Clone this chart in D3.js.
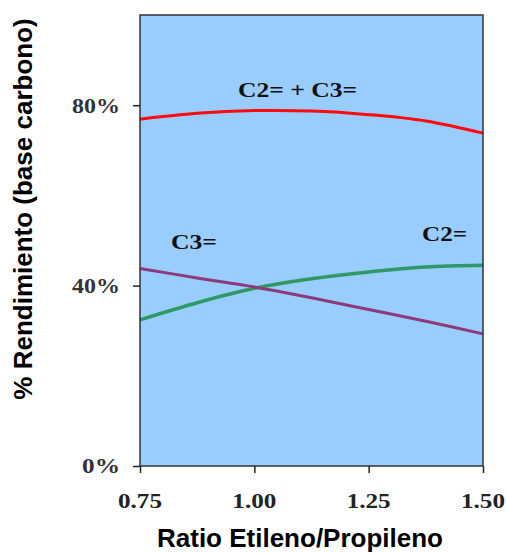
<!DOCTYPE html>
<html>
<head>
<meta charset="utf-8">
<script src="https://cdn.jsdelivr.net/npm/d3@7"></script>
<style>
  html, body { margin: 0; padding: 0; background: #fff; }
  svg { display: block; }
</style>
</head>
<body>
<svg id="chart" width="506" height="553"></svg>
<script>
// Ethylene/propylene ratio and carbon-based yields
const ratios = [0.75, 0.875, 1.0, 1.125, 1.25, 1.375, 1.5];
const yieldTotal = [0.769, 0.782, 0.788, 0.787, 0.779, 0.765, 0.738];   // C2= + C3=
const yieldC2 = [0.324, 0.362, 0.394, 0.415, 0.430, 0.441, 0.445];      // C2=
const yieldC3 = [0.438, 0.417, 0.397, 0.373, 0.347, 0.321, 0.293];      // C3=
const xTicks = [0.75, 1.0, 1.25, 1.5];
const xTickLabels = ["0.75", "1.00", "1.25", "1.50"];
const yTicks = [0, 0.4, 0.8];
const yTickLabels = ["0%", "40%", "80%"];
const seriesNames = ["C2= + C3=", "C2=", "C3="];

const svg = d3.select("#chart");
const plotLeft = 140, plotRight = 483, plotTop = 15, plotBottom = 466;

const x = d3.scaleLinear().domain([0.75, 1.5]).range([plotLeft, plotRight]);
const y = d3.scaleLinear().domain([0, 1]).range([plotBottom, plotTop]);

// plot background
svg.append("rect")
  .attr("x", plotLeft).attr("y", plotTop)
  .attr("width", plotRight - plotLeft).attr("height", plotBottom - plotTop)
  .attr("fill", "#99ccff");

// series lines
const line = d3.line()
  .x((d, i) => x(ratios[i]))
  .y(d => y(d))
  .curve(d3.curveCatmullRom.alpha(0.5));

const series = [
  { values: yieldTotal, color: "#ff0a0a", width: 3 },
  { values: yieldC2, color: "#2f9966", width: 3.5 },
  { values: yieldC3, color: "#8e3a78", width: 3 }
];
series.forEach(s => {
  svg.append("path")
    .attr("d", line(s.values))
    .attr("fill", "none")
    .attr("stroke", s.color)
    .attr("stroke-width", s.width);
});

// frame
svg.append("rect")
  .attr("x", plotLeft).attr("y", plotTop)
  .attr("width", plotRight - plotLeft).attr("height", plotBottom - plotTop)
  .attr("fill", "none")
  .attr("stroke", "#333")
  .attr("stroke-width", 1.5);

// axes
const xAxis = d3.axisBottom(x).tickValues(xTicks).tickSize(7).tickFormat("");
const gx = svg.append("g").attr("transform", `translate(0,${plotBottom})`).call(xAxis);
const yAxis = d3.axisLeft(y).tickValues(yTicks).tickSize(7).tickFormat("");
const gy = svg.append("g").attr("transform", `translate(${plotLeft},0)`).call(yAxis);
[gx, gy].forEach(g => {
  g.select(".domain").remove();
  g.selectAll(".tick line").attr("stroke", "#222").attr("stroke-width", 1.5);
});

// tick labels
svg.append("g").selectAll("text")
  .data(xTicks)
  .join("text")
  .attr("x", d => x(d))
  .attr("y", 508)
  .attr("text-anchor", "middle")
  .attr("font-family", "'Liberation Serif', 'Times New Roman', serif")
  .attr("font-weight", "bold")
  .attr("font-size", 20)
  .attr("fill", "#222")
  .attr("textLength", 44)
  .attr("lengthAdjust", "spacingAndGlyphs")
  .text((d, i) => xTickLabels[i]);

svg.append("g").selectAll("text")
  .data(yTicks)
  .join("text")
  .attr("x", 120)
  .attr("y", d => y(d))
  .attr("dy", "0.35em")
  .attr("text-anchor", "end")
  .attr("font-family", "'Liberation Serif', 'Times New Roman', serif")
  .attr("font-weight", "bold")
  .attr("font-size", 21)
  .attr("fill", "#333")
  .attr("textLength", (d, i) => yTickLabels[i].length === 2 ? 38 : 48)
  .attr("lengthAdjust", "spacingAndGlyphs")
  .text((d, i) => yTickLabels[i]);

// series labels
const seriesLabels = [
  { text: seriesNames[0], x: 238, y: 97, w: 119 },
  { text: seriesNames[1], x: 422, y: 241, w: 45 },
  { text: seriesNames[2], x: 171, y: 249, w: 46 }
];
svg.append("g").selectAll("text")
  .data(seriesLabels)
  .join("text")
  .attr("x", d => d.x)
  .attr("y", d => d.y)
  .attr("font-family", "'Liberation Serif', 'Times New Roman', serif")
  .attr("font-weight", "bold")
  .attr("font-size", 21)
  .attr("fill", "#111")
  .attr("textLength", d => d.w)
  .attr("lengthAdjust", "spacingAndGlyphs")
  .text(d => d.text);

// axis titles
svg.append("text")
  .attr("x", 300)
  .attr("y", 547)
  .attr("text-anchor", "middle")
  .attr("font-family", "'Liberation Sans', Arial, sans-serif")
  .attr("font-weight", "bold")
  .attr("font-size", 26)
  .attr("fill", "#000")
  .text("Ratio Etileno/Propileno");

svg.append("text")
  .attr("transform", "translate(32,209) rotate(-90)")
  .attr("text-anchor", "middle")
  .attr("font-family", "'Liberation Sans', Arial, sans-serif")
  .attr("font-weight", "bold")
  .attr("font-size", 26)
  .attr("fill", "#000")
  .text("% Rendimiento (base carbono)");
</script>
</body>
</html>
